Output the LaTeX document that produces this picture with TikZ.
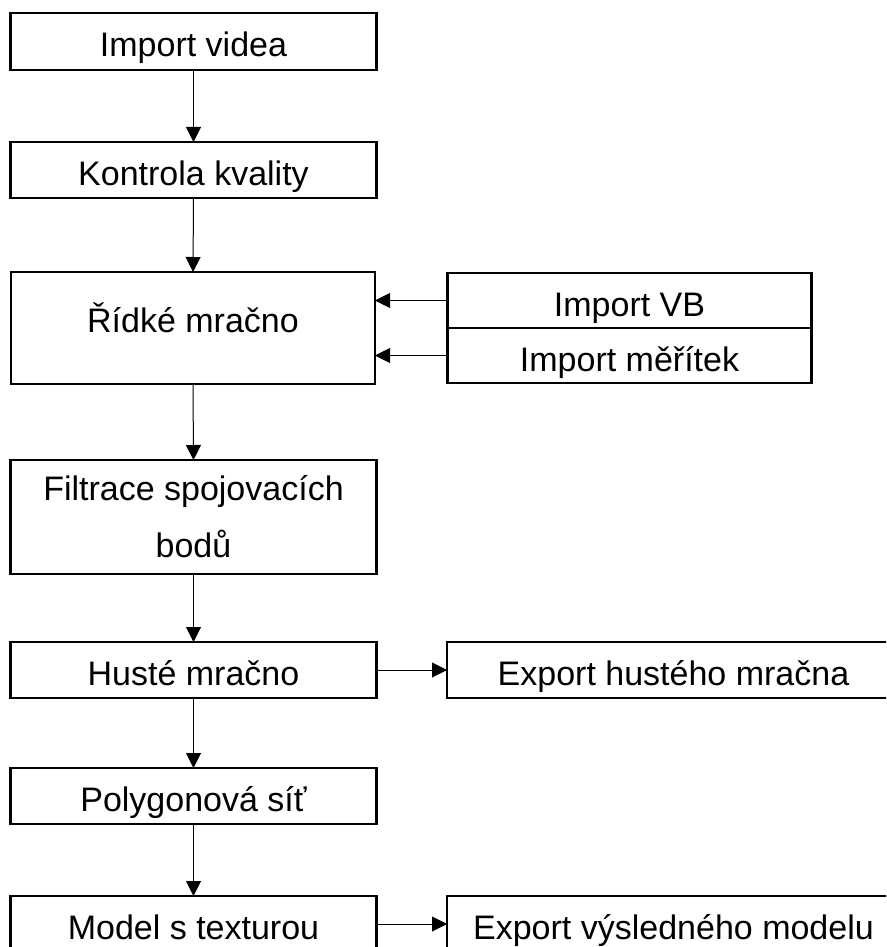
\documentclass[tikz,border=0pt]{standalone}
\usepackage{fontspec}
\setmainfont{Liberation Sans}
\usetikzlibrary{arrows.meta}
\tikzset{
  box/.style={draw=black, line width=2.6pt, fill=white, inner sep=0pt, outer sep=0pt,
    font=\fontsize{34}{57}\selectfont, align=center, text height=31pt, text depth=0pt},
  tallbox/.style={draw=black, line width=2.6pt, fill=white, inner sep=0pt, outer sep=0pt,
    font=\fontsize{34}{57}\selectfont, align=center},
  conn/.style={draw=black, line width=1pt, -{Triangle[length=15pt,width=15pt]}},
}
\begin{document}
\begin{tikzpicture}[x=1pt,y=-1pt]
\clip (0,0) rectangle (886,947);
\fill[white] (0,0) rectangle (886,947);
\node[box, minimum width=366pt, minimum height=57pt] (iv) at (193.5,41.5) {Import videa};
\node[box, minimum width=366pt, minimum height=56pt] (kk) at (193.5,170) {Kontrola kvality};
\node[box, text height=9pt, minimum width=364pt, minimum height=112pt] (rm) at (193,328) {Řídké mračno};
\node[box, minimum width=364pt, minimum height=55pt] (vb) at (629.5,300.5) {Import VB};
\node[box, minimum width=364pt, minimum height=55pt] (mt) at (629.5,355.5) {Import měřítek};
\node[tallbox, minimum width=366pt, minimum height=114pt, yshift=-2pt] (fs) at (193.5,515) {Filtrace spojovacích\\bodů};
\node[box, minimum width=366pt, minimum height=56pt] (hm) at (193.5,670) {Husté mračno};
\node[box, minimum width=453pt, minimum height=56pt] (eh) at (673.5,670) {Export hustého mračna};
\node[box, minimum width=366pt, minimum height=56pt] (ps) at (193.5,796) {Polygonová síť};
\node[box, minimum width=366pt, minimum height=56pt] (mx) at (193.5,924) {Model s texturou};
\node[box, minimum width=453pt, minimum height=56pt] (ev) at (673.5,924) {Export výsledného modelu};
\draw[conn] (iv.south) -- (kk.north);
\draw[conn] (kk.south) -- (rm.north);
\draw[conn] (rm.south) -- (fs.north);
\draw[conn] (fs.south) -- (hm.north);
\draw[conn] (hm.south) -- (ps.north);
\draw[conn] (ps.south) -- (mx.north);
\draw[conn] (vb.west) -- (rm.east |- vb.west);
\draw[conn] (mt.west) -- (rm.east |- mt.west);
\draw[conn] (hm.east) -- (eh.west);
\draw[conn] (mx.east) -- (ev.west);
\end{tikzpicture}
\end{document}
